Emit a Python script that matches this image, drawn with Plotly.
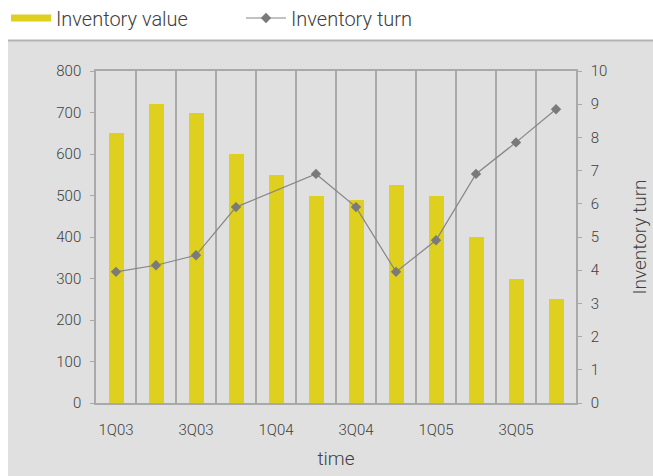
import plotly.graph_objects as go

categories = ["1Q03", "2Q03", "3Q03", "4Q03", "1Q04", "2Q04", "3Q04", "4Q04",
              "1Q05", "2Q05", "3Q05", "4Q05"]
inventory_value = [650, 720, 700, 600, 550, 500, 490, 525, 500, 400, 300, 250]
inventory_turn = [3.95, 4.15, 4.45, 5.9, None, 6.9, 5.9, 3.95, 4.9, 6.9, 7.85, 8.85]
tick_labels = ["1Q03", "", "3Q03", "", "1Q04", "", "3Q04", "", "1Q05", "", "3Q05", ""]

YELLOW = "#dfcf1e"
GRAY_LINE = "#858585"
MARK = "#7a7a7a"
GRID = "#a9a9a9"
BG = "#e0e0e0"
TXT = "#404040"
FONT = "Roboto"

fig = go.Figure()
fig.add_trace(go.Bar(
    x=categories, y=inventory_value, width=0.375,
    marker=dict(color=YELLOW, line=dict(width=0)),
    showlegend=False, name="Inventory value",
))
# legend entry for the bar series drawn as a thick swatch
fig.add_trace(go.Scatter(
    x=[None], y=[None], mode="lines", name="Inventory value",
    line=dict(color=YELLOW, width=7),
))
fig.add_trace(go.Scatter(
    x=categories, y=inventory_turn, yaxis="y2", mode="lines+markers",
    name="Inventory turn", connectgaps=True,
    line=dict(color=GRAY_LINE, width=1.2),
    marker=dict(symbol="diamond", size=8, color=MARK),
))

L, R, T, B = 96, 77, 71, 73
W, H = 653, 476
pw, ph = W - L - R, H - T - B

def px_x(p):
    return (p - L) / pw

def px_y(p):
    return (H - B - p) / ph

fig.add_shape(type="rect", xref="paper", yref="paper",
              x0=px_x(8), x1=px_x(660), y0=px_y(41), y1=px_y(480),
              fillcolor=BG, line=dict(width=0), layer="below")
fig.add_shape(type="line", xref="paper", yref="paper",
              x0=px_x(8), x1=px_x(660), y0=px_y(40.5), y1=px_y(40.5),
              line=dict(color="#b4b4b4", width=2), layer="below")

fig.update_layout(
    width=W, height=H,
    margin=dict(l=L, r=R, t=T, b=B, autoexpand=False),
    paper_bgcolor="white", plot_bgcolor=BG,
    font=dict(family=FONT, color=TXT, size=15, weight=300),
    bargap=0,
    showlegend=True,
    legend=dict(orientation="h", x=px_x(6), y=px_y(18), xanchor="left", yanchor="middle",
                font=dict(size=20, color=TXT, family=FONT, weight=300),
                bgcolor="rgba(0,0,0,0)", entrywidth=180, entrywidthmode="pixels",
                itemwidth=40, tracegroupgap=0),
    xaxis=dict(
        type="category", tickson="boundaries", tickmode="array",
        tickvals=categories, ticktext=tick_labels, tickangle=0,
        showgrid=True, gridcolor=GRID, gridwidth=1.5,
        showline=True, linecolor=GRID, linewidth=1.5, mirror=True,
        ticks="", ticklabelstandoff=12,
        tickfont=dict(size=15, color=TXT),
        title=dict(text="time", font=dict(size=19, color=TXT), standoff=14),
        range=[-0.5, 11.5], fixedrange=True,
    ),
    yaxis=dict(
        range=[0, 800], dtick=100, showgrid=False, zeroline=False,
        showline=True, linecolor=GRID, linewidth=1.5,
        ticks="outside", ticklen=4, tickcolor=GRID, tickwidth=1,
        ticklabelstandoff=6, tickfont=dict(size=15, color=TXT),
    ),
    yaxis2=dict(
        overlaying="y", side="right", range=[0, 10], dtick=1,
        showgrid=False, zeroline=False,
        showline=True, linecolor=GRID, linewidth=1.5,
        ticks="outside", ticklen=4, tickcolor=GRID, tickwidth=1,
        ticklabelstandoff=6, tickfont=dict(size=15, color=TXT),
        title=dict(text="Inventory turn", font=dict(size=19, color=TXT), standoff=26),
    ),
)

fig.write_html("out.html")
